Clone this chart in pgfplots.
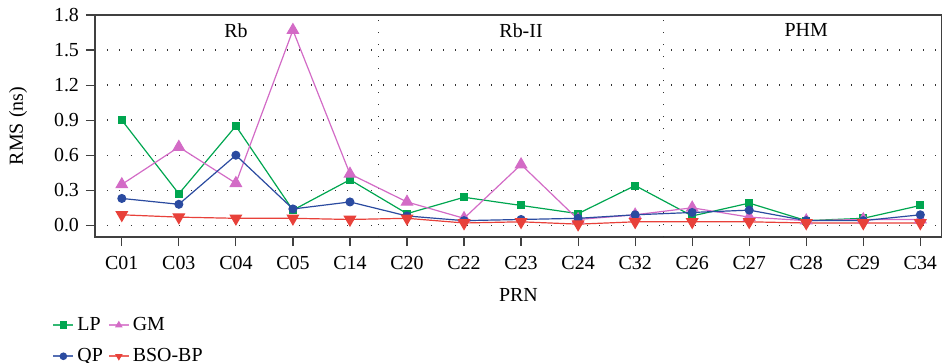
\documentclass[border=0pt]{standalone}
\usepackage{fontspec}
\setmainfont{Liberation Serif}
\usepackage{pgfplots}
\pgfplotsset{compat=1.18}
\definecolor{cLP}{RGB}{0,166,80}
\definecolor{cQP}{RGB}{43,75,160}
\definecolor{cGM}{RGB}{211,107,198}
\definecolor{cBSO}{RGB}{232,65,58}
\begin{document}
\begin{tikzpicture}
\begin{axis}[
  scale only axis,
  width=423.5bp, height=111bp,
  xmin=-0.47, xmax=14.38,
  ymin=-0.1, ymax=1.8,
  xtick={0,...,14},
  xticklabels={C01,C03,C04,C05,C14,C20,C22,C23,C24,C32,C26,C27,C28,C29,C34},
  xticklabel style={yshift=-1.5bp},
  ytick={0,0.3,0.6,0.9,1.2,1.5,1.8},
  yticklabel style={/pgf/number format/.cd,fixed,fixed zerofill,precision=1},
  /pgf/number format/assume math mode=true,
  tick align=outside,
  tick pos=left,
  major tick length=4.5bp,
  ymajorgrids,
  grid style={black!80, line width=0.7bp, dash pattern=on 0.7bp off 5.3bp},
  axis line style={black!75, line width=0.6bp},
  tick style={black!75, line width=0.6bp},
  font=\fontsize{10}{12}\selectfont,
  xlabel={PRN}, ylabel={RMS (ns)},
  xlabel style={at={(axis description cs:0.5,0)}, yshift=-29bp, anchor=center},
  ylabel style={at={(axis description cs:0,0.5)}, yshift=38.5bp, anchor=center},
  legend columns=2,
  legend cell align=left,
  legend style={draw=none, fill=none, inner sep=0pt, at={(axis description cs:-0.0508,-0.345)}, anchor=north west,
    /tikz/every even column/.append style={column sep=1bp}, row sep=4.5bp,
    nodes={inner sep=1.5bp}},
  legend image code/.code={\draw[#1, line width=1bp, opacity=0.8] (0bp,0bp) -- (10bp,0bp); \draw[#1, only marks, mark size=1.6bp] plot coordinates {(5bp,0bp)};},
  every axis plot/.append style={line width=0.6bp},
]
\coordinate (sw) at (rel axis cs:0,0);
\coordinate (ne) at (rel axis cs:1,1);
\draw[black!80, line width=0.7bp, dash pattern=on 0.7bp off 5.3bp] (axis cs:4.5,-0.1) -- (axis cs:4.5,1.8);
\draw[black!80, line width=0.7bp, dash pattern=on 0.7bp off 5.3bp] (axis cs:9.5,-0.1) -- (axis cs:9.5,1.8);
\addplot[cLP, mark=square*, mark size=1.7bp] coordinates {(0,0.90)(1,0.27)(2,0.85)(3,0.13)(4,0.39)(5,0.10)(6,0.24)(7,0.17)(8,0.10)(9,0.34)(10,0.08)(11,0.19)(12,0.04)(13,0.06)(14,0.17)};
\addlegendentry{LP}
\addplot[cGM, mark=triangle*, mark size=3.2bp] coordinates {(0,0.35)(1,0.67)(2,0.36)(3,1.67)(4,0.44)(5,0.20)(6,0.06)(7,0.52)(8,0.05)(9,0.09)(10,0.15)(11,0.07)(12,0.04)(13,0.05)(14,0.05)};
\addlegendentry{GM}
\addplot[cQP, mark=*, mark size=1.95bp] coordinates {(0,0.23)(1,0.18)(2,0.60)(3,0.14)(4,0.20)(5,0.08)(6,0.04)(7,0.05)(8,0.06)(9,0.09)(10,0.11)(11,0.13)(12,0.04)(13,0.04)(14,0.09)};
\addlegendentry{QP}
\addplot[cBSO, mark=triangle*, mark options={rotate=180}, mark size=3.2bp] coordinates {(0,0.09)(1,0.07)(2,0.06)(3,0.06)(4,0.05)(5,0.06)(6,0.02)(7,0.03)(8,0.01)(9,0.03)(10,0.03)(11,0.03)(12,0.02)(13,0.02)(14,0.02)};
\addlegendentry{BSO-BP}
\node at (axis cs:2,1.67) {Rb};
\node at (axis cs:7,1.67) {Rb-II};
\node at (axis cs:12,1.67) {PHM};
\end{axis}
\pgfresetboundingbox
\path ([shift={(-47.5bp,-63bp)}]sw) rectangle ([shift={(0bp,7.5bp)}]ne);
\end{tikzpicture}
\end{document}
